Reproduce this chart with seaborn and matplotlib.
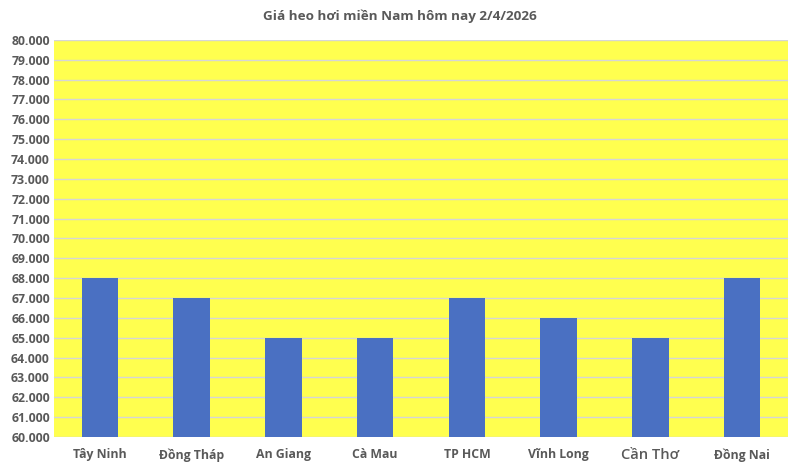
import matplotlib
matplotlib.use("Agg")
import matplotlib.pyplot as plt
import seaborn as sns
import pandas as pd
from matplotlib.ticker import FuncFormatter, MultipleLocator

categories = ["Tây Ninh", "Đồng Tháp", "An Giang", "Cà Mau", "TP HCM", "Vĩnh Long", "Cần Thơ", "Đồng Nai"]
prices = [68000, 67000, 65000, 65000, 67000, 66000, 65000, 68000]
title = "Giá heo hơi miền Nam hôm nay 2/4/2026"

sns.set_theme(style="white")
plt.rcParams['font.family'] = ['Open Sans', 'DejaVu Sans']

df = pd.DataFrame({"cat": categories, "price": prices})

fig = plt.figure(figsize=(8, 4.71), dpi=100)
fig.patch.set_facecolor("white")
ax = fig.add_axes([0.0675, 0.0722, 0.9175, 0.843])
ax.set_facecolor("#FFFF4F")

sns.barplot(data=df, x="cat", y="price", color="#4A70C2", saturation=1, width=0.4,
            linewidth=0, edgecolor="none", ax=ax, zorder=3)

ax.set_ylim(60000, 80000)
ax.yaxis.set_major_locator(MultipleLocator(1000))
ax.yaxis.set_major_formatter(FuncFormatter(lambda v, p: f"{int(v):,}".replace(",", ".")))
ax.grid(axis="y", color="#D6D6D6", linewidth=1, zorder=0)
ax.set_axisbelow(True)
for s in ax.spines.values():
    s.set_visible(False)
ax.set_xlabel("")
ax.set_ylabel("")
ax.tick_params(axis="both", length=0, colors="#595959")
for lbl in ax.get_yticklabels():
    lbl.set_fontsize(8.8)
    lbl.set_fontweight("bold")
    lbl.set_color("#595959")
for lbl in ax.get_xticklabels():
    lbl.set_fontsize(8.8)
    lbl.set_fontweight("bold")
    lbl.set_color("#595959")
    if lbl.get_text() == "Cần Thơ":
        lbl.set_fontsize(10.5)
        lbl.set_fontweight("semibold")
ax.tick_params(axis="x", pad=8)
ax.tick_params(axis="y", pad=3)

fig.text(0.5, 0.966, title, ha="center", va="center", fontsize=9.7, fontweight="bold", color="#595959")

fig.savefig("out.png", dpi=100, facecolor="white")
